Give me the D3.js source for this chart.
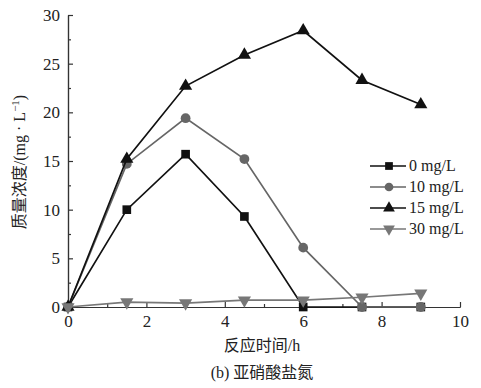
<!DOCTYPE html>
<html>
<head>
<meta charset="UTF-8" />
<title>亚硝酸盐氮</title>
<script src="https://d3js.org/d3.v7.min.js"></script>
<style>
body { margin: 0; background: #fff; }
text { font-family: "Liberation Serif", "Noto Sans CJK SC", serif; fill: #222; }
</style>
</head>
<body>
<div id="chart"></div>
<script>
var hours = [0, 1.5, 3, 4.5, 6, 7.5, 9];
var names = ['0 mg/L', '10 mg/L', '15 mg/L', '30 mg/L'];
var s0 = [0, 10.0, 15.7, 9.3, 0, 0, 0];
var s10 = [0, 14.7, 19.4, 15.2, 6.1, 0, 0];
var s15 = [0, 15.2, 22.7, 25.9, 28.4, 23.3, 20.8];
var s30 = [0, 0.5, 0.4, 0.7, 0.7, 1.0, 1.4];
var xTicks = [0, 2, 4, 6, 8, 10];
var yTicks = [0, 5, 10, 15, 20, 25, 30];

var width = 481, height = 388;
var svg = d3.select('#chart').append('svg')
    .attr('width', width).attr('height', height);

var x = d3.scaleLinear().domain([0, 10]).range([68, 460]);
var y = d3.scaleLinear().domain([0, 30]).range([307, 15]);

// axes, ticks pointing inward
svg.append('g').attr('transform', 'translate(0,' + y(0) + ')')
    .call(d3.axisBottom(x).tickValues(xTicks).tickSizeInner(-5).tickSizeOuter(0).tickPadding(8));
svg.append('g').attr('transform', 'translate(0,' + y(0) + ')')
    .call(d3.axisBottom(x).tickValues([1, 3, 5, 7, 9]).tickSizeInner(-3).tickSizeOuter(0).tickFormat(''));
svg.append('g').attr('transform', 'translate(' + x(0) + ',0)')
    .call(d3.axisLeft(y).tickValues(yTicks).tickSizeInner(-5).tickSizeOuter(0).tickPadding(8));
svg.append('g').attr('transform', 'translate(' + x(0) + ',0)')
    .call(d3.axisLeft(y).tickValues([2.5, 7.5, 12.5, 17.5, 22.5, 27.5]).tickSizeInner(-3).tickSizeOuter(0).tickFormat(''));
svg.selectAll('.domain, .tick line').attr('stroke', '#333').attr('stroke-width', 1.2);
svg.selectAll('.tick text')
    .style('font-family', '"Liberation Serif", serif')
    .style('font-size', '17px').style('fill', '#222');

var series = [
    {name: names[0], vals: s0, color: '#111', shape: d3.symbolSquare},
    {name: names[1], vals: s10, color: '#666', shape: d3.symbolCircle},
    {name: names[2], vals: s15, color: '#111', shape: d3.symbolTriangle},
    {name: names[3], vals: s30, color: '#777', shape: 'down'}
];

function marker(g, s, size) {
    if (s.shape === 'down') {
        g.append('path').attr('d', d3.symbol().type(d3.symbolTriangle).size(size)())
            .attr('transform', 'rotate(180)').attr('fill', s.color);
    } else {
        g.append('path').attr('d', d3.symbol().type(s.shape).size(size)()).attr('fill', s.color);
    }
}

var line = d3.line().x(function(d) { return x(d[0]); }).y(function(d) { return y(d[1]); });

series.forEach(function(s) {
    var pts = hours.map(function(h, i) { return [h, s.vals[i]]; });
    svg.append('path').datum(pts).attr('d', line)
        .attr('fill', 'none').attr('stroke', s.color).attr('stroke-width', 1.7);
    pts.forEach(function(p) {
        var g = svg.append('g').attr('transform', 'translate(' + x(p[0]) + ',' + y(p[1]) + ')');
        marker(g, s, 75);
    });
});

// legend
var legend = svg.append('g');
series.forEach(function(s, i) {
    var ly = 166 + i * 21;
    legend.append('line').attr('x1', 370).attr('x2', 406).attr('y1', ly).attr('y2', ly)
        .attr('stroke', s.color).attr('stroke-width', 1.7);
    var g = legend.append('g').attr('transform', 'translate(389,' + ly + ')');
    marker(g, s, 60);
    legend.append('text').attr('x', 409).attr('y', ly + 5)
        .style('font-size', '16px').text(s.name);
});

svg.append('text').attr('x', 262).attr('y', 351).attr('text-anchor', 'middle')
    .style('font-size', '16px').text('反应时间/h');
svg.append('text').attr('x', 262).attr('y', 378).attr('text-anchor', 'middle')
    .style('font-size', '16px').text('(b) 亚硝酸盐氮');

var yt = svg.append('text').attr('transform', 'translate(25,162) rotate(-90)')
    .attr('text-anchor', 'middle').style('font-size', '16px');
yt.append('tspan').text('质量浓度/(mg · L');
yt.append('tspan').attr('dy', -6).style('font-size', '11px').text('−1');
yt.append('tspan').attr('dy', 6).text(')');
</script>
</body>
</html>
